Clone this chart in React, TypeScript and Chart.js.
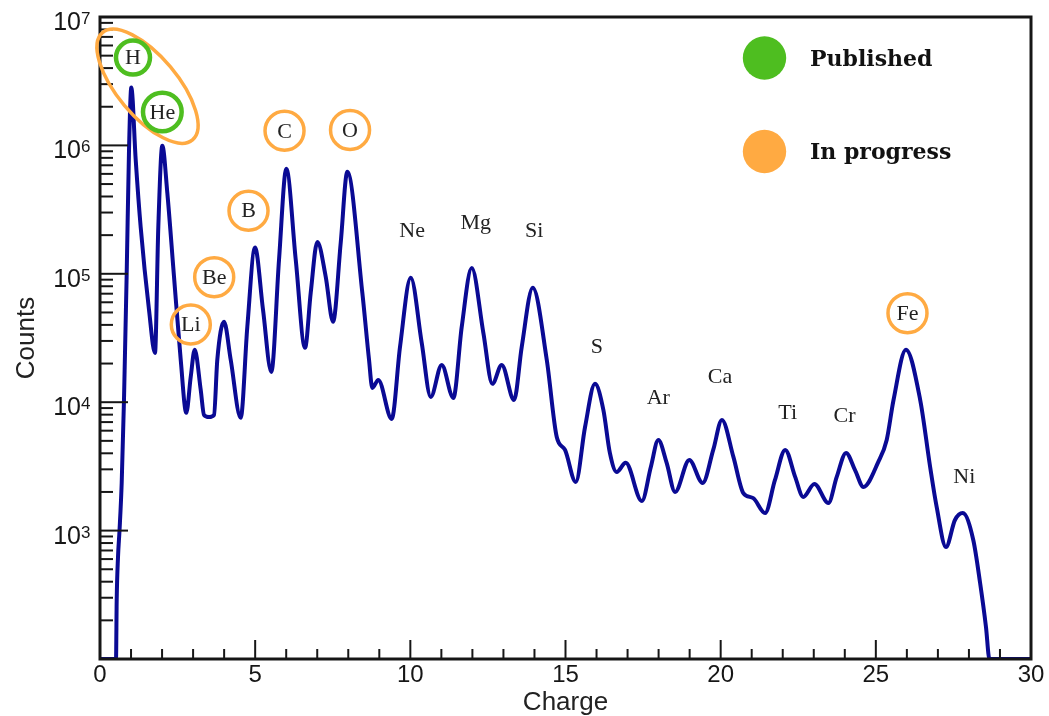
import React, { useEffect, useRef } from 'react';
import { Chart, registerables } from 'chart.js';

Chart.register(...registerables);

// ---- Data ----
const charge = [
  0, 0.516, 0.538, 0.58, 0.628, 0.699, 0.773, 0.86, 0.935, 1.009, 1.15,
  1.31, 1.579, 1.772, 1.879, 2.008, 2.169, 2.385, 2.601, 2.781, 2.923,
  3.052, 3.245, 3.352, 3.513, 3.674, 3.78, 3.996, 4.212, 4.534, 4.747,
  4.995, 5.253, 5.52, 5.769, 6.004, 6.307, 6.607, 6.79, 7.003, 7.274,
  7.509, 7.757, 7.97, 8.453, 8.669, 8.775, 8.968, 9.4, 9.668, 10.013,
  10.367, 10.657, 11.012, 11.386, 11.656, 11.978, 12.353, 12.643, 12.945, 13.342,
  13.59, 13.945, 14.396, 14.718, 14.985, 15.33, 15.63, 15.95, 16.22, 16.43,
  16.65, 16.94, 17.46, 17.75, 17.99, 18.26, 18.53, 18.99, 19.42, 19.76,
  20.04, 20.41, 20.73, 21.05, 21.43, 21.75, 22.08, 22.4, 22.66, 23.02,
  23.47, 23.74, 24.04, 24.33, 24.6, 25.08, 25.35, 25.57, 25.97, 26.43,
  26.75, 26.96, 27.26, 27.55, 27.8, 28.14, 28.36, 28.55, 28.66, 30,
];

const counts = [
  100, 100, 288, 622, 993, 2350, 10400, 100000, 925000, 2820000, 774000,
  232000, 52400, 24200, 232000, 995000, 428000, 94800, 21400, 8260, 15700,
  25600, 12500, 7960, 7670, 7960, 21400, 42300, 21400, 7550, 38600,
  160000, 52400, 17200, 129000, 658000, 129000, 26500, 71100, 177000, 94800,
  42300, 175000, 624000, 71100, 21400, 12900, 14900, 7410, 27000, 93100,
  29000, 11000, 19500, 10800, 38600, 111000, 34700, 13900, 19500, 10400,
  27000, 77800, 21400, 5360, 4250, 2390, 6410, 13900, 8710, 4030,
  2860, 3370, 1700, 3130, 5080, 3370, 2000, 3550, 2350, 4250,
  7280, 3750, 1960, 1790, 1370, 2480, 4250, 2620, 1830, 2310,
  1640, 2620, 4030, 2960, 2190, 3430, 5080, 10400, 25600, 10400,
  3130, 1530, 745, 1210, 1370, 845, 391, 177, 100, 100,
];

const xTickValues = [0, 5, 10, 15, 20, 25, 30];
const yLabelExponents = [3, 4, 5, 6, 7];

// circled element labels (charge, count position)
const circledLabels = ['H', 'He', 'Li', 'Be', 'B', 'C', 'O', 'Fe'];
const circledCharge = [1.063, 2.008, 2.926, 3.68, 4.786, 5.946, 8.057, 26.02];
const circledCount = [4.83e6, 1.82e6, 4.03e4, 9.42e4, 3.1e5, 1.3e6, 1.32e6, 4.94e4];
const circledStatus = ['published', 'published', 'progress', 'progress', 'progress', 'progress', 'progress', 'progress'];

// plain element labels
const plainLabels = ['Ne', 'Mg', 'Si', 'S', 'Ar', 'Ca', 'Ti', 'Cr', 'Ni'];
const plainCharge = [10.06, 12.11, 13.99, 16.01, 17.99, 19.98, 22.16, 23.99, 27.85];
const plainCount = [2.2e5, 2.5e5, 2.2e5, 2.71e4, 1.09e4, 1.58e4, 8.3e3, 7.96e3, 2.63e3];

// group ellipse around H & He (centre in data coords)
const groupCharge = [1.531];
const groupCount = [2.89e6];

const legendLabels = ['Published', 'In progress'];

const GREEN = 'rgb(78,190,32)';
const ORANGE = 'rgb(255,170,66)';
const INK = '#161616';

const overlayPlugin = {
  id: 'overlay',
  afterDatasetsDraw(chart: any) {
    const { ctx, chartArea: a, scales } = chart;
    const x = scales.x;
    const y = scales.y;
    ctx.save();

    // ticks
    ctx.strokeStyle = INK;
    ctx.lineWidth = 2;
    for (let v = 0; v <= 30; v++) {
      const px = x.getPixelForValue(v);
      const len = v % 5 === 0 ? 19 : 10;
      ctx.beginPath();
      ctx.moveTo(px, a.bottom);
      ctx.lineTo(px, a.bottom - len);
      ctx.stroke();
    }
    for (let e = 2; e <= 7; e++) {
      for (let m = 1; m <= 9; m++) {
        const v = m * Math.pow(10, e);
        if (v > 1e7) break;
        const py = y.getPixelForValue(v);
        const len = m === 1 ? 28 : 13;
        ctx.beginPath();
        ctx.moveTo(a.left, py);
        ctx.lineTo(a.left + len, py);
        ctx.stroke();
      }
    }

    // frame
    ctx.lineWidth = 3;
    ctx.strokeRect(a.left, a.top, a.right - a.left, a.bottom - a.top);

    // y tick labels with superscripts
    ctx.fillStyle = INK;
    yLabelExponents.forEach((exp) => {
      const py = y.getPixelForValue(Math.pow(10, exp));
      ctx.font = '25px "Liberation Sans", Arial, sans-serif';
      ctx.textAlign = 'right';
      ctx.textBaseline = 'alphabetic';
      ctx.fillText('10', 81, py + 13);
      ctx.font = '17px "Liberation Sans", Arial, sans-serif';
      ctx.textAlign = 'left';
      ctx.fillText(String(exp), 81, py + 7);
    });

    // group ellipse
    groupCharge.forEach((c, i) => {
      const cx = x.getPixelForValue(c);
      const cy = y.getPixelForValue(groupCount[i]);
      ctx.beginPath();
      ctx.ellipse(cx, cy, 70, 30, (50 * Math.PI) / 180, 0, Math.PI * 2);
      ctx.strokeStyle = ORANGE;
      ctx.lineWidth = 3.5;
      ctx.stroke();
    });

    // circled labels
    ctx.font = '22px "Liberation Serif", "Times New Roman", serif';
    ctx.textAlign = 'center';
    ctx.textBaseline = 'middle';
    circledLabels.forEach((lab, i) => {
      const cx = x.getPixelForValue(circledCharge[i]);
      const cy = y.getPixelForValue(circledCount[i]);
      const pub = circledStatus[i] === 'published';
      const w = ctx.measureText(lab).width;
      const r = pub ? Math.max(17, w / 2 + 6.5) : 19.5;
      ctx.beginPath();
      ctx.arc(cx, cy, r, 0, Math.PI * 2);
      ctx.strokeStyle = pub ? GREEN : ORANGE;
      ctx.lineWidth = pub ? 4.5 : 3.5;
      ctx.stroke();
      ctx.fillStyle = '#222';
      ctx.fillText(lab, cx, cy + 1);
    });

    // plain labels
    plainLabels.forEach((lab, i) => {
      const cx = x.getPixelForValue(plainCharge[i]);
      const cy = y.getPixelForValue(plainCount[i]);
      ctx.fillStyle = '#222';
      ctx.fillText(lab, cx, cy + 1);
    });

    // legend
    const legendColors = [GREEN, ORANGE];
    legendLabels.forEach((lab, i) => {
      const cy = 58 + i * 93.5;
      ctx.beginPath();
      ctx.arc(764.5, cy, 21.7, 0, Math.PI * 2);
      ctx.fillStyle = legendColors[i];
      ctx.fill();
      ctx.fillStyle = '#111';
      ctx.font = 'bold 22px "DejaVu Serif", serif';
      ctx.textAlign = 'left';
      ctx.textBaseline = 'alphabetic';
      ctx.fillText(lab, 810, cy + 7.5);
    });

    ctx.restore();
  },
};

export default function App() {
  const canvasRef = useRef<HTMLCanvasElement | null>(null);

  useEffect(() => {
    if (!canvasRef.current) return;
    const points = charge.map((c, i) => ({ x: c, y: counts[i] }));
    const chart = new Chart(canvasRef.current, {
      type: 'line',
      data: {
        datasets: [
          {
            label: 'Counts',
            data: points,
            borderColor: 'rgb(10,10,148)',
            borderWidth: 4,
            pointRadius: 0,
            fill: false,
            cubicInterpolationMode: 'monotone',
          },
        ],
      },
      options: {
        animation: false,
        responsive: false,
        maintainAspectRatio: false,
        devicePixelRatio: 1,
        layout: { padding: { top: 17, right: 18, left: 0, bottom: 0 } },
        plugins: { legend: { display: false }, tooltip: { enabled: false } },
        scales: {
          x: {
            type: 'linear',
            min: 0,
            max: 30,
            afterBuildTicks: (scale: any) => {
              scale.ticks = xTickValues.map((v) => ({ value: v }));
            },
            afterFit: (scale: any) => {
              scale.height = 57;
            },
            grid: { display: false, drawTicks: false },
            border: { display: false },
            ticks: {
              padding: 2,
              color: INK,
              font: { family: '"Liberation Sans", Arial, sans-serif', size: 24 },
              maxRotation: 0,
            },
            title: {
              display: true,
              text: 'Charge',
              color: '#222',
              font: { family: '"Liberation Sans", Arial, sans-serif', size: 26, lineHeight: 1 },
              padding: { top: 0, bottom: 0 },
            },
          },
          y: {
            type: 'logarithmic',
            min: 100,
            max: 1e7,
            afterFit: (scale: any) => {
              scale.width = 100;
            },
            grid: { display: false, drawTicks: false },
            border: { display: false },
            ticks: { display: false },
            title: {
              display: true,
              text: 'Counts',
              color: '#222',
              font: { family: '"Liberation Sans", Arial, sans-serif', size: 26, lineHeight: 1 },
              padding: { top: 14, bottom: 0 },
            },
          },
        },
      },
      plugins: [overlayPlugin],
    });
    return () => chart.destroy();
  }, []);

  return (
    <div style={{ position: 'absolute', left: 0, top: 0, width: 1049, height: 716, background: '#fff' }}>
      <canvas ref={canvasRef} width={1049} height={716} style={{ display: 'block' }} />
    </div>
  );
}
